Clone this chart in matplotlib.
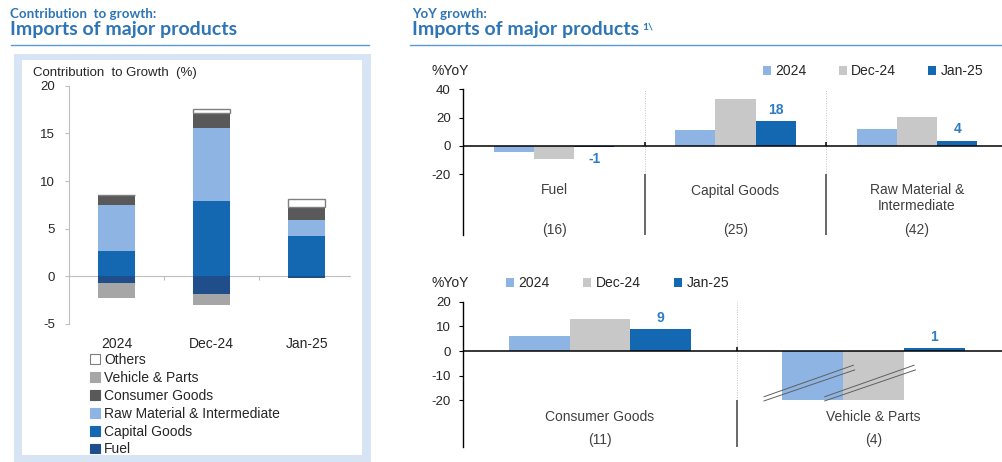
import matplotlib
matplotlib.use("Agg")
import matplotlib.pyplot as plt
from matplotlib.patches import Rectangle, Patch
from matplotlib.lines import Line2D
import numpy as np

# ---------------- data ----------------
# Left: contribution to growth (%)
periods = ["2024", "Dec-24", "Jan-25"]
fuel_c = [-0.7, -1.9, -0.2]
capital_c = [2.7, 7.9, 4.2]
raw_c = [4.8, 7.7, 1.7]
consumer_c = [1.0, 1.5, 1.3]
vehicle_c = [-1.55, -1.1, 0.05]
others_c = [0.0, 0.5, 0.85]

# Right: YoY growth (%)
upper_cats = ["Fuel", "Capital Goods", "Raw Material &\nIntermediate"]
upper_weights = ["(16)", "(25)", "(42)"]
upper_2024 = [-4.0, 11.4, 11.9]
upper_dec24 = [-9.5, 33.3, 20.5]
upper_jan25 = [-1.0, 17.6, 3.8]

lower_cats = ["Consumer Goods", "Vehicle & Parts"]
lower_weights = ["(11)", "(4)"]
lower_2024 = [6.2, -26.0]
lower_dec24 = [13.0, -24.0]
lower_jan25 = [8.8, 1.35]
lower_floor = -20  # axis break for very negative bars

series_names = ["2024", "Dec-24", "Jan-25"]

# ---------------- style ----------------
W, H = 1002, 462
FONT = ["Liberation Sans", "DejaVu Sans"]
plt.rcParams["font.family"] = FONT
plt.rcParams["axes.unicode_minus"] = False
TXT = "#262626"
TITLE_BLUE = "#2E75B6"
C_FUEL = "#1F4E8A"
C_CAP = "#1468B1"
C_RAW = "#8DB4E2"
C_CONS = "#595959"
C_VEH = "#A6A6A6"
C_OTH = "#FFFFFF"
C24, CDEC, CJAN = "#8DB4E2", "#C8C8C8", "#1468B1"
LBL_BLUE = "#2E7CC4"
FS = 10  # label font size
TS = 9.5  # tick font size

fig = plt.figure(figsize=(W / 100, H / 100), dpi=100)


def fx(px):
    return px / W


def fy(py):
    return 1 - py / H


def axes_px(x0, y0, x1, y1):
    return fig.add_axes([fx(x0), fy(y1), fx(x1) - fx(x0), (y1 - y0) / H])


# ---------------- frame & titles ----------------
fig.patches.append(Rectangle((fx(14), fy(462)), fx(371) - fx(14), (462 - 54) / H,
                             transform=fig.transFigure, facecolor="#D6E4F4",
                             edgecolor="none", zorder=-3))
fig.patches.append(Rectangle((fx(22), fy(455)), fx(362) - fx(22), (455 - 60) / H,
                             transform=fig.transFigure, facecolor="white",
                             edgecolor="none", zorder=-2))
fig.lines.append(Line2D([fx(11), fx(369)], [fy(45), fy(45)], transform=fig.transFigure,
                        color="#5B9BD5", lw=1.0))
fig.lines.append(Line2D([fx(410), fx(1002)], [fy(45), fy(45)], transform=fig.transFigure,
                        color="#5B9BD5", lw=1.0))

TFONT = ["Lato", "DejaVu Sans"]
fig.text(fx(10), fy(13.5), "Contribution  to growth:", family=TFONT, fontweight="bold",
         fontsize=9.6, color=TITLE_BLUE, va="center", ha="left")
fig.text(fx(10), fy(30), "Imports of major products", family=TFONT, fontweight="bold",
         fontsize=14, color=TITLE_BLUE, va="center", ha="left")
fig.text(fx(412), fy(13.5), "YoY growth:", family=TFONT, fontweight="bold",
         fontsize=9.6, color=TITLE_BLUE, va="center", ha="left")
fig.text(fx(412), fy(30), "Imports of major products", family=TFONT, fontweight="bold",
         fontsize=14, color=TITLE_BLUE, va="center", ha="left")
fig.text(fx(642), fy(27), "1\\", family=TFONT, fontweight="bold",
         fontsize=7.5, color=TITLE_BLUE, va="center", ha="left")

# ---------------- left stacked chart ----------------
axL = axes_px(69, 85.7, 351, 324)
x = np.arange(len(periods))
bw = 0.39
stack_series = [("Fuel", fuel_c, C_FUEL), ("Capital Goods", capital_c, C_CAP),
                ("Raw Material & Intermediate", raw_c, C_RAW),
                ("Consumer Goods", consumer_c, C_CONS),
                ("Vehicle & Parts", vehicle_c, C_VEH), ("Others", others_c, C_OTH)]
pos_base = np.zeros(len(periods))
neg_base = np.zeros(len(periods))
handles = []
for name, vals, col in stack_series:
    v = np.array(vals, dtype=float)
    base = np.where(v >= 0, pos_base, neg_base)
    is_oth = col == C_OTH
    axL.bar(x, v, bw, bottom=base, color=col,
            edgecolor="#808080" if is_oth else "none",
            linewidth=1.0 if is_oth else 0, zorder=3)
    pos_base = pos_base + np.where(v >= 0, v, 0)
    neg_base = neg_base + np.where(v < 0, v, 0)
    handles.append(Patch(facecolor=col, edgecolor="#808080" if is_oth else col,
                         linewidth=0.8, label=name))

axL.set_xlim(-0.5, 2.465)
axL.set_ylim(-5, 20)
axL.set_yticks([-5, 0, 5, 10, 15, 20])
axL.set_xticks(x)
axL.set_xticklabels(periods)
for s in ["top", "right", "bottom"]:
    axL.spines[s].set_visible(False)
axL.spines["left"].set_color("#BFBFBF")
axL.spines["left"].set_linewidth(0.8)
axL.tick_params(axis="y", length=3, width=0.8, color="#BFBFBF", pad=7,
                labelsize=TS, labelcolor=TXT)
axL.tick_params(axis="x", length=0, pad=9, labelsize=FS, labelcolor=TXT)
axL.axhline(0, color="#BFBFBF", lw=0.8, zorder=2)
axL.vlines(x[:-1] + 0.5, -0.35, 0, color="#BFBFBF", lw=0.8, zorder=2)
axL.vlines([x[-1] + 0.46], -0.35, 0, color="#BFBFBF", lw=0.8, zorder=2)
axL.set_facecolor("none")
fig.text(fx(33), fy(73), "Contribution  to Growth  (%)", fontsize=9.5, color=TXT,
         ha="left", va="center")
axL.legend(handles=handles[::-1], loc="upper left",
           bbox_to_anchor=(fx(90), fy(353)), bbox_transform=fig.transFigure,
           frameon=False, fontsize=FS, handlelength=0.7, handleheight=0.7,
           handletextpad=0.3, labelspacing=0.28, borderaxespad=0, borderpad=0,
           labelcolor=TXT)


# ---------------- right charts ----------------
def yoy_panel(ax, box, cats, weights, s24, sdec, sjan, ylo, yhi, yticks,
              cat_top_px, w_px, tick_len, floor=None):
    top_px, bottom_px = box
    h_px = bottom_px - top_px
    n = len(cats)
    xs = np.arange(n)
    w = 0.222
    cols = [C24, CDEC, CJAN]
    data = [s24, sdec, sjan]
    for i, (vals, col, nm) in enumerate(zip(data, cols, series_names)):
        v = np.array(vals, dtype=float)
        if floor is not None:
            v = np.maximum(v, floor)
        ax.bar(xs + (i - 1) * w, v, w, color=col, label=nm, zorder=3,
               edgecolor="none")
    # data labels for latest month
    for xi, val in zip(xs, sjan):
        off = 3 if val >= 0 else -3
        ax.annotate(f"{round(val):d}", (xi + w, val), xytext=(0, off),
                    textcoords="offset points", ha="center",
                    va="bottom" if val >= 0 else "top", fontsize=FS,
                    fontweight="bold", color=LBL_BLUE, zorder=5)
    ax.axhline(0, color="black", lw=1.1, zorder=4)
    seps = xs[:-1] + 0.5
    ax.vlines(seps, yticks[0], yhi, colors="#C0C0C0", linestyles=(0, (1, 1.5)),
              lw=0.7, zorder=1)
    ax.vlines(seps, ylo, yticks[0], colors="#404040", lw=1.1, zorder=2)
    ax.vlines(seps, 0, tick_len, colors="black", lw=1.1, zorder=4)
    tr = ax.get_xaxis_transform()
    for xi, c, wt in zip(xs, cats, weights):
        ax.text(xi, (bottom_px - cat_top_px) / h_px, c, transform=tr, ha="center",
                va="top", fontsize=FS, color="#404040", linespacing=1.15)
        ax.text(xi, (bottom_px - w_px) / h_px, wt, transform=tr,
                ha="center", va="center", fontsize=FS, color="#404040")
    ax.set_ylim(ylo, yhi)
    ax.set_yticks(yticks)
    ax.set_xticks([])
    for s in ["top", "right", "bottom"]:
        ax.spines[s].set_visible(False)
    ax.spines["left"].set_color("black")
    ax.spines["left"].set_linewidth(1.0)
    ax.tick_params(axis="y", length=3, width=0.8, pad=6, labelsize=TS,
                   labelcolor=TXT)
    ax.set_facecolor("none")


boxU = (89.4, 235)
axU = axes_px(463.3, boxU[0], 1002, boxU[1])
axU.set_xlim(-0.5, 2.468)
yoy_panel(axU, boxU, upper_cats, upper_weights, upper_2024, upper_dec24, upper_jan25,
          -62.9, 40, [-20, 0, 20, 40], 183.5, 230, 2.6)
fig.text(fx(432), fy(71), "%YoY", fontsize=FS, color=TXT, ha="left", va="center")
axU.legend(loc="center left", bbox_to_anchor=(fx(763), fy(71)),
           bbox_transform=fig.transFigure, ncol=3, frameon=False, fontsize=FS,
           handlelength=0.6, handleheight=0.6, handletextpad=0.3,
           columnspacing=2.3, borderaxespad=0, borderpad=0, labelcolor=TXT)

boxB = (301.7, 446.7)
axB = axes_px(463.3, boxB[0], 1002, boxB[1])
axB.set_xlim(-0.5, 1.47)
yoy_panel(axB, boxB, lower_cats, lower_weights, lower_2024, lower_dec24, lower_jan25,
          -38.8, 20, [-20, -10, 0, 10, 20], 410, 440, 1.7,
          floor=lower_floor)
fig.text(fx(432), fy(283), "%YoY", fontsize=FS, color=TXT, ha="left", va="center")
axB.legend(loc="center left", bbox_to_anchor=(fx(506), fy(283)),
           bbox_transform=fig.transFigure, ncol=3, frameon=False, fontsize=FS,
           handlelength=0.6, handleheight=0.6, handletextpad=0.3,
           columnspacing=2.4, borderaxespad=0, borderpad=0, labelcolor=TXT)

# axis-break marks on truncated bars
for i, vals in enumerate([lower_2024, lower_dec24]):
    for xi, val in enumerate(vals):
        if val < lower_floor:
            bx = xi + (i - 1) * 0.222
            axB.plot([bx - 0.18, bx + 0.15], [-18.6, -5.7],
                     color="#606060", lw=0.7, zorder=5, solid_capstyle="butt")
            axB.plot([bx - 0.18, bx + 0.155], [-20.3, -7.6],
                     color="#606060", lw=0.7, zorder=5, solid_capstyle="butt")

fig.savefig("out.png", dpi=100)
